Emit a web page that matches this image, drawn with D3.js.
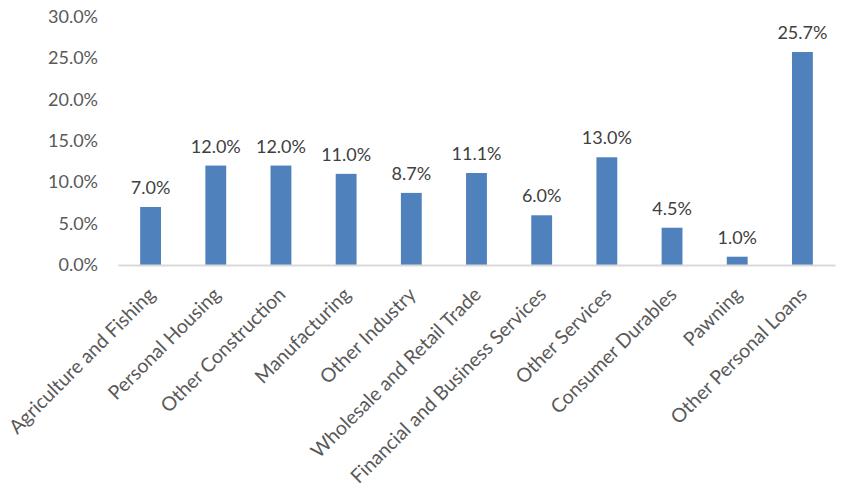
<!DOCTYPE html>
<html><head><meta charset="utf-8">
<script src="https://cdn.jsdelivr.net/npm/d3@7"></script>
<style>html,body{margin:0;padding:0;background:#fff;}svg{display:block;}</style>
</head><body>
<svg id="chart" width="844" height="490"></svg>
<script>
const categories = ["Agriculture and Fishing","Personal Housing","Other Construction","Manufacturing","Other Industry","Wholesale and Retail Trade","Financial and Business Services","Other Services","Consumer Durables","Pawning","Other Personal Loans"];
const values = [7.0, 12.0, 12.0, 11.0, 8.7, 11.1, 6.0, 13.0, 4.5, 1.0, 25.7];
const yTicks = [0, 5, 10, 15, 20, 25, 30];

const svg = d3.select("#chart");
const font = "Lato, 'Open Sans', sans-serif";
const x = d3.scaleBand().domain(categories).range([118, 835]).paddingInner(0.68).paddingOuter(0.34);
const y = d3.scaleLinear().domain([0, 30]).range([265, 16.4]);

// y axis labels
const yAxis = svg.append("g").attr("transform", "translate(98,0)")
  .call(d3.axisLeft(y).tickValues(yTicks).tickSize(0).tickPadding(0).tickFormat(d => d.toFixed(1) + "%"));
yAxis.select(".domain").remove();
yAxis.selectAll("text").attr("font-family", font).attr("font-size", 18).attr("fill", "#595959");

// bars
svg.append("g").selectAll("rect").data(values).join("rect")
  .attr("x", (d, i) => x(categories[i]))
  .attr("width", x.bandwidth())
  .attr("y", d => y(d))
  .attr("height", d => y(0) - y(d))
  .attr("fill", "#4F81BD");

// x axis line
const xAxis = svg.append("g").attr("transform", `translate(0,${y(0)})`)
  .call(d3.axisBottom(x).tickSize(0).tickFormat(""));
xAxis.select(".domain").attr("stroke", "#D9D9D9").attr("stroke-width", 2);

// category labels
svg.append("g").selectAll("text").data(categories).join("text")
  .attr("transform", d => `translate(${x(d) + x.bandwidth() / 2 + 1},${y(0) + 26}) rotate(-45)`)
  .attr("text-anchor", "end")
  .attr("dy", "0.35em")
  .attr("font-family", font).attr("font-size", 19.5).attr("fill", "#595959")
  .text(d => d);

// data labels
svg.append("g").selectAll("text").data(values).join("text")
  .attr("x", (d, i) => x(categories[i]) + x.bandwidth() / 2)
  .attr("y", d => y(d) - 13)
  .attr("text-anchor", "middle")
  .attr("font-family", font).attr("font-size", 18).attr("fill", "#404040")
  .text(d => d.toFixed(1) + "%");
</script>
</body></html>
